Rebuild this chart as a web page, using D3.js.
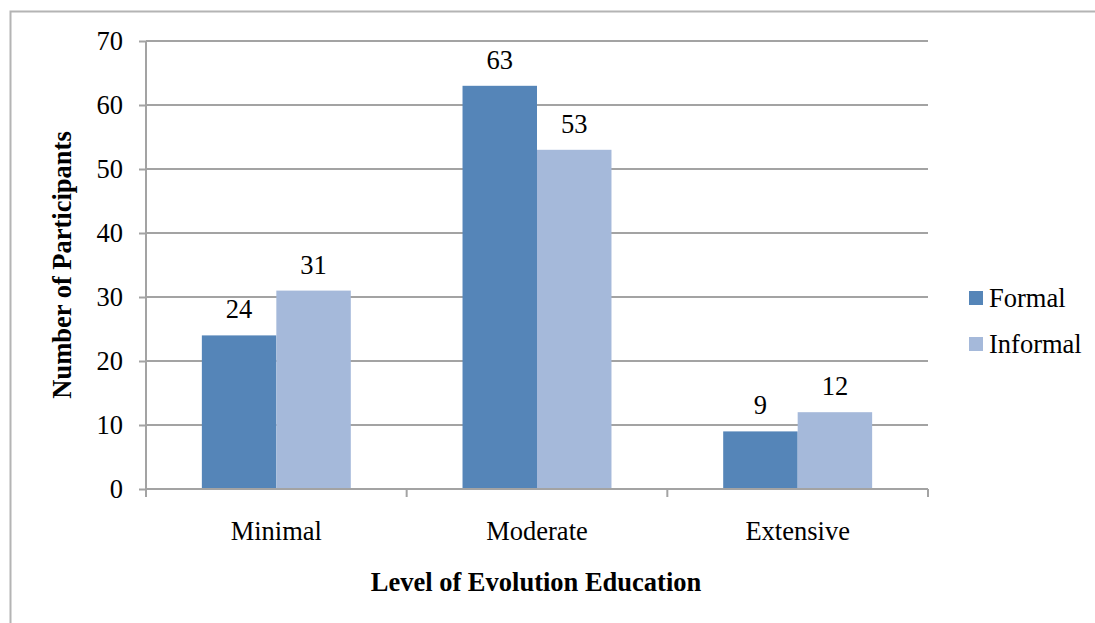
<!DOCTYPE html>
<html>
<head>
<meta charset="utf-8">
<script src="https://cdn.jsdelivr.net/npm/d3@7"></script>
<style>
  html, body { margin: 0; padding: 0; background: #fff; }
  svg { display: block; }
</style>
</head>
<body>
<svg id="chart" width="1095" height="623"></svg>
<script>
// Participants by level of evolution education
const categories = ["Minimal", "Moderate", "Extensive"];
const seriesNames = ["Formal", "Informal"];
const formalValues = [24, 63, 9];
const informalValues = [31, 53, 12];
const yTicks = [0, 10, 20, 30, 40, 50, 60, 70];
const colors = ["#5585b8", "#a5b9da"];

const serif = "'Liberation Serif', 'Times New Roman', Times, serif";
const fontSize = 26.5;
const svg = d3.select("#chart");
const plot = { left: 146, right: 928, top: 41, bottom: 489 };

function styleText(sel, bold) {
  return sel.style("font-family", serif)
    .style("font-size", fontSize + "px")
    .style("font-weight", bold ? "bold" : "normal")
    .style("fill", "#000");
}

// outer frame
svg.append("rect")
  .attr("x", 10.5).attr("y", 11.5)
  .attr("width", 1200).attr("height", 800)
  .attr("fill", "none").attr("stroke", "#b4b4b4").attr("stroke-width", 2);

const y = d3.scaleLinear().domain([0, 70]).range([plot.bottom, plot.top]);
const x0 = d3.scaleBand().domain(categories).range([plot.left, plot.right]).padding(0);
const x1 = d3.scaleBand().domain(seriesNames).range([0, x0.bandwidth()])
  .paddingInner(0).paddingOuter(0.75);

// horizontal gridlines
svg.append("g")
  .selectAll("line")
  .data(yTicks.filter(d => d > 0))
  .join("line")
  .attr("x1", plot.left).attr("x2", plot.right)
  .attr("y1", d => y(d)).attr("y2", d => y(d))
  .attr("stroke", "#a3a3a3").attr("stroke-width", 2);

// bars
const rows = categories.map((c, i) => ({
  category: c,
  values: [
    { series: "Formal", value: formalValues[i] },
    { series: "Informal", value: informalValues[i] }
  ]
}));

const groups = svg.append("g").selectAll("g")
  .data(rows).join("g")
  .attr("transform", d => `translate(${x0(d.category)},0)`);

groups.selectAll("rect")
  .data(d => d.values).join("rect")
  .attr("x", d => x1(d.series))
  .attr("width", x1.bandwidth())
  .attr("y", d => y(d.value))
  .attr("height", d => y(0) - y(d.value))
  .attr("fill", (d, i) => colors[i]);

// value labels
groups.selectAll("text")
  .data(d => d.values).join("text")
  .attr("x", d => x1(d.series) + x1.bandwidth() / 2)
  .attr("y", d => y(d.value) - 17)
  .attr("text-anchor", "middle")
  .text(d => d.value)
  .call(styleText, false);

// y axis
const yAxis = d3.axisLeft(y).tickValues(yTicks).tickSize(7).tickPadding(16);
const yg = svg.append("g").attr("transform", `translate(${plot.left},0)`).call(yAxis);
yg.attr("font-family", null).attr("font-size", null);
yg.select(".domain").attr("stroke", "#a3a3a3").attr("stroke-width", 2).attr("d", `M0,${plot.top}V${plot.bottom}`);
yg.selectAll(".tick line").attr("stroke", "#a3a3a3").attr("stroke-width", 2);
yg.selectAll(".tick text").call(styleText, false);

// x axis (ticks on category boundaries)
const boundaries = categories.map(c => x0(c)).concat([plot.right]);
const xg = svg.append("g");
xg.append("line")
  .attr("x1", plot.left).attr("x2", plot.right)
  .attr("y1", plot.bottom).attr("y2", plot.bottom)
  .attr("stroke", "#a3a3a3").attr("stroke-width", 2);
xg.selectAll("line.tick")
  .data(boundaries).join("line").attr("class", "tick")
  .attr("x1", d => d).attr("x2", d => d)
  .attr("y1", plot.bottom).attr("y2", plot.bottom + 8)
  .attr("stroke", "#a3a3a3").attr("stroke-width", 2);
xg.selectAll("text")
  .data(categories).join("text")
  .attr("x", d => x0(d) + x0.bandwidth() / 2)
  .attr("y", 540)
  .attr("text-anchor", "middle")
  .text(d => d)
  .call(styleText, false);

// axis titles
svg.append("text")
  .attr("x", (plot.left + plot.right) / 2 - 1)
  .attr("y", 591)
  .attr("text-anchor", "middle")
  .text("Level of Evolution Education")
  .call(styleText, true);

svg.append("text")
  .attr("transform", `translate(71,${(plot.top + plot.bottom) / 2}) rotate(-90)`)
  .attr("text-anchor", "middle")
  .text("Number of Participants")
  .call(styleText, true);

// legend
const legend = svg.append("g").attr("transform", "translate(969,291)");
const items = legend.selectAll("g").data(seriesNames).join("g")
  .attr("transform", (d, i) => `translate(0,${i * 46})`);
items.append("rect").attr("width", 14).attr("height", 14).attr("fill", (d, i) => colors[i]);
items.append("text").attr("x", 20).attr("y", 16)
  .text(d => d)
  .call(styleText, false);
</script>
</body>
</html>
